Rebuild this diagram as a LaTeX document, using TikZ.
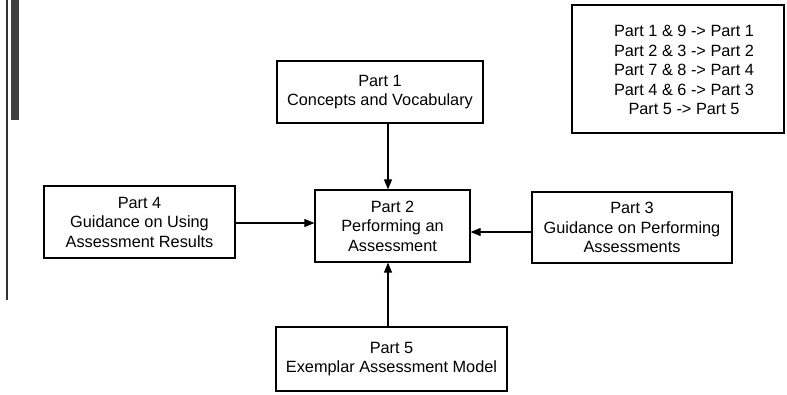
\documentclass[tikz,border=0pt]{standalone}
\usepackage{fontspec}
\setmainfont{Liberation Sans}
\usetikzlibrary{arrows.meta}
\begin{document}
\begin{tikzpicture}[x=1bp,y=-1bp,
  font=\fontsize{16.3bp}{19.5bp}\selectfont,
  partbox/.style={draw, line width=1.2bp, align=center, inner sep=0pt,
    minimum width=#1},
  link/.style={line width=1.1bp, -{Triangle[length=10bp,width=8bp]}}]
  \useasboundingbox (0,0) rectangle (787,394);

  % binding edge of the page
  \fill[black!80] (6.2,0) rectangle (7.8,300);
  \fill[black!75] (11,0) rectangle (19,120);

  % parts
  \node[partbox=206bp, minimum height=62bp] (p1) at (380,92)
    {Part 1\\Concepts and Vocabulary};
  \node[partbox=155bp, minimum height=72bp] (p2) at (392.5,226)
    {Part 2\\Performing an\\Assessment};
  \node[partbox=200bp, minimum height=71bp] (p3) at (632,227.5)
    {Part 3\\Guidance on Performing\\Assessments};
  \node[partbox=191bp, minimum height=72bp] (p4) at (139.5,222)
    {Part 4\\Guidance on Using\\Assessment Results};
  \node[partbox=231bp, minimum height=64bp] (p5) at (391.5,359)
    {Part 5\\Exemplar Assessment Model};

  % mapping of old parts to new parts
  \node[partbox=212bp, minimum height=128bp] (legend) at (678,69) {};
  \node[align=center, inner sep=0pt] (legtext) at (684,70)
    {Part 1 \& 9 -> Part 1\\Part 2 \& 3 -> Part 2\\Part 7 \& 8 -> Part 4\\
     Part 4 \& 6 -> Part 3\\Part 5 -> Part 5};

  % connectors into Part 2
  \coordinate (ax) at (388,0);
  \draw[link] (p1.south -| ax) -- (p2.north -| ax);
  \draw[link] (p5.north -| ax) -- (p2.south -| ax);
  \draw[link] ([yshift=-1bp]p4.east) -- ([yshift=-1bp]p4.east -| p2.west);
  \draw[link] ([yshift=-4.5bp]p3.west) -- ([yshift=-4.5bp]p3.west -| p2.east);
\end{tikzpicture}
\end{document}
